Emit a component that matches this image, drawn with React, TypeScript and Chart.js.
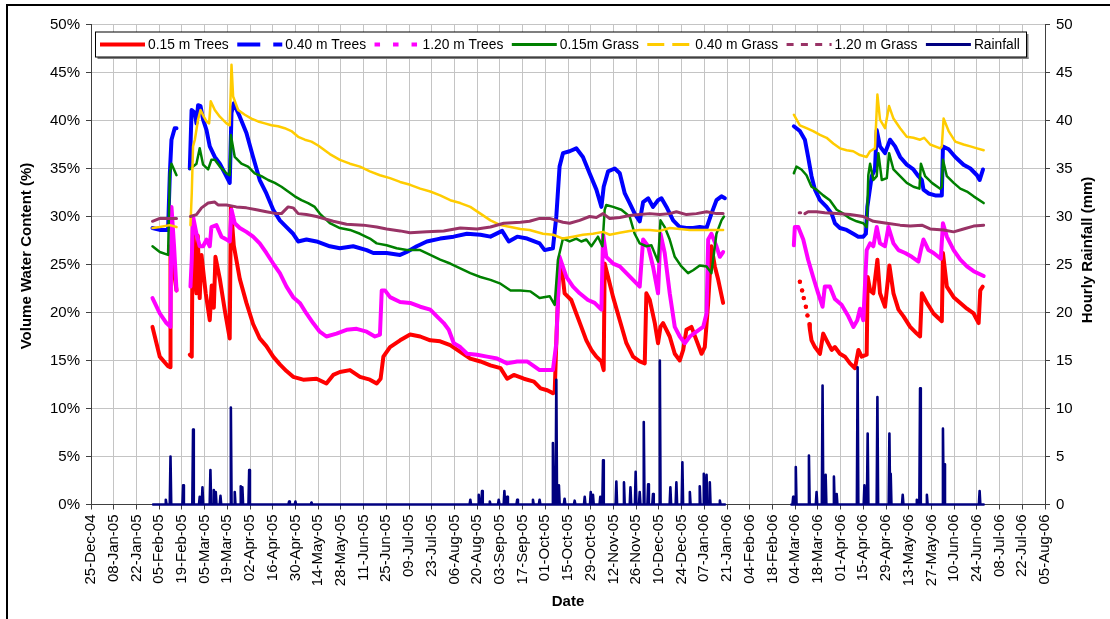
import React, { useEffect, useRef } from "react";
import { Chart, registerables } from "chart.js";

Chart.register(...registerables);

// ---------- axis definitions (days since 25-Dec-2004) ----------
const START_UTC = Date.UTC(2004, 11, 25);
const MONTHS = ["Jan", "Feb", "Mar", "Apr", "May", "Jun", "Jul", "Aug", "Sep", "Oct", "Nov", "Dec"];
const dayMin = 0;
const dayMax = 588;
const dayStep = 14;
const pctMin = 0;
const pctMax = 50;
const pctStep = 5;

const seriesLabels = [
  "0.15 m Trees",
  "0.40 m Trees",
  "1.20 m Trees",
  "0.15m Grass",
  "0.40 m Grass",
  "1.20 m Grass",
  "Rainfall",
];

type Pt = [number, number | null];

// ---------- series: [day, volume water content %] ----------
const trees015: Pt[] = [
  [37.9, 18.5], [42.4, 15.4], [47.5, 14.4], [48.8, 14.3], [49.0, 26.9], [50.6, 25.0], [52.7, 22.3], [56, null],
  [60.9, 15.6], [62.1, 15.4], [62.7, 29.5], [64.0, 24.0], [65.0, 22.0], [65.8, 28.0], [67.0, 21.5], [68.1, 26.0],
  [70.7, 22.0], [73.2, 19.2], [74.4, 22.8], [75.7, 20.5], [76.7, 25.8], [79.4, 23.5], [82.5, 20.2], [85.5, 17.3],
  [86.2, 31.0], [88.0, 27.0], [91.7, 23.5], [95.8, 21.0], [99.9, 18.8], [104.0, 17.3], [108.1, 16.5], [112.3, 15.4],
  [116.4, 14.6], [120.5, 13.9], [124.6, 13.3], [130.8, 13.0], [139.0, 13.1], [145.1, 12.6], [149.3, 13.5],
  [153.4, 13.8], [159.6, 14.0], [165.8, 13.3], [171.9, 13.0], [176.1, 12.6], [178.5, 13.1], [180.2, 15.4],
  [184.3, 16.4], [190.5, 17.1], [196.7, 17.7], [202.9, 17.5], [209.1, 17.1], [215.2, 17.0], [221.4, 16.6],
  [227.6, 15.9], [233.8, 15.2], [240.0, 14.9], [246.2, 14.5], [252.4, 14.2], [256.5, 13.1], [260.6, 13.5],
  [266.8, 13.1], [273.0, 12.8], [277.1, 12.1], [281.2, 11.9], [284.7, 11.6], [285.8, 11.7], [287.0, 18.0],
  [288.8, 25.5], [289.8, 25.1], [291.9, 22.0], [296.0, 21.3], [299.1, 19.9], [302.2, 18.5], [305.3, 17.1],
  [308.4, 16.1], [311.5, 15.4], [314.6, 14.9], [316.0, 14.0], [316.6, 25.1], [318.7, 23.7], [321.8, 21.6],
  [325.9, 19.2], [330.0, 16.8], [334.1, 15.4], [338.2, 14.9], [341.3, 14.7], [342.3, 22.0], [344.4, 21.3],
  [347.5, 18.9], [349.5, 16.8], [351.0, 18.5], [352.6, 18.9], [356.7, 17.5], [359.8, 15.7], [362.9, 15.0],
  [365.0, 16.1], [367.0, 18.2], [370.1, 18.5], [373.2, 17.1], [376.3, 15.7], [378.3, 16.4], [380.4, 21.0],
  [382.4, 26.9], [384.5, 24.8], [386.6, 23.4], [389.6, 21.0], [410, null],
  [436.9, 23.2], [437.6, null], [438.3, 22.3], [438.8, null], [439.3, 21.5], [440.0, null], [440.6, 20.6],
  [441.1, null], [441.6, 19.7], [442.1, null], [442.7, 18.8], [443.1, 18.2], [444.1, 17.1], [446.2, 16.4],
  [449.3, 15.7], [451.3, 17.8], [453.4, 17.1], [456.5, 16.1], [458.5, 16.4], [461.6, 15.7], [464.7, 15.4],
  [467.8, 14.7], [470.9, 14.2], [473.0, 16.1], [475.0, 15.4], [478.1, 15.6], [478.7, 23.7], [480.2, 22.3],
  [482.2, 22.0], [484.7, 25.5], [486.3, 22.0], [489.4, 20.6], [492.1, 24.9], [494.6, 22.0], [497.7, 20.3],
  [500.8, 19.6], [504.9, 18.5], [509.0, 17.8], [511.0, 17.5], [512.1, 22.0], [515.2, 21.0], [519.3, 19.9],
  [522.4, 19.4], [524.4, 19.1], [525.1, 26.2], [527.5, 22.7], [531.7, 21.6], [535.8, 21.0], [539.9, 20.4],
  [544.0, 19.9], [547.1, 18.9], [548.1, 22.3], [549.6, 22.7],
];

const trees040: Pt[] = [
  [37.9, 28.8], [42.4, 28.6], [47.5, 28.6], [48.6, 34.5], [49.6, 38.0], [51.6, 39.2], [52.7, 39.2], [56, null],
  [60.9, 35.0], [62.0, 41.1], [64.0, 40.8], [65.0, 39.7], [66.0, 41.6], [67.5, 41.5], [69.1, 40.1], [71.2, 39.0],
  [73.2, 37.3], [76.3, 36.2], [79.4, 35.5], [82.5, 34.5], [85.5, 33.5], [86.6, 40.8], [88.0, 41.8], [91.7, 40.4],
  [95.8, 38.7], [99.9, 36.2], [104.0, 33.8], [108.1, 32.4], [112.3, 30.7], [116.4, 29.6], [120.5, 28.9],
  [124.6, 28.2], [127.7, 27.4], [132.8, 27.6], [139.0, 27.4], [147.2, 26.9], [153.4, 26.7], [161.6, 26.9],
  [169.9, 26.5], [174.0, 26.2], [182.2, 26.2], [190.5, 26.0], [194.6, 26.3], [200.8, 26.9], [207.0, 27.4],
  [215.2, 27.7], [223.5, 27.9], [231.7, 28.2], [240.0, 28.1], [246.2, 27.9], [253.4, 28.5], [257.5, 27.4],
  [262.7, 27.9], [268.8, 27.7], [276.5, 27.2], [279.6, 26.5], [284.7, 26.7], [286.8, 30.0], [288.8, 35.2],
  [290.9, 36.6], [295.0, 36.8], [299.1, 37.1], [303.2, 36.2], [307.3, 34.5], [311.5, 32.8], [314.6, 31.0],
  [316.0, 33.1], [318.7, 34.7], [322.8, 35.0], [325.9, 34.5], [329.0, 32.4], [332.0, 31.4], [335.1, 30.3],
  [338.2, 29.5], [340.3, 31.5], [343.4, 31.9], [346.4, 31.0], [349.5, 31.7], [351.6, 31.9], [354.7, 31.0],
  [358.8, 29.6], [362.9, 28.9], [367.0, 28.8], [371.1, 28.8], [375.2, 28.9], [379.4, 28.8], [382.4, 30.3],
  [385.5, 31.7], [388.6, 32.1], [390.7, 31.9], [410, null],
  [433.2, 39.4], [436.9, 38.9], [440.0, 38.0], [442.0, 36.2], [444.1, 34.2], [446.2, 32.8], [449.3, 31.7],
  [453.4, 31.0], [456.5, 30.3], [458.5, 29.3], [461.6, 28.8], [465.7, 28.6], [469.8, 28.2], [472.9, 27.9],
  [476.0, 27.9], [477.6, 28.2], [478.5, 31.0], [481.2, 34.2], [483.2, 34.9], [484.3, 39.0], [486.3, 37.3],
  [489.4, 36.6], [492.5, 38.0], [495.6, 37.3], [498.7, 36.2], [502.8, 35.4], [506.9, 34.9], [510.0, 34.2],
  [512.1, 33.8], [513.1, 32.8], [516.2, 32.4], [520.3, 32.2], [524.4, 32.2], [525.1, 37.3], [528.6, 37.0],
  [532.7, 36.2], [537.8, 35.4], [542.0, 35.0], [546.1, 34.3], [547.7, 33.8], [549.8, 34.9],
];

const trees120: Pt[] = [
  [37.9, 21.5], [42.4, 19.9], [46.5, 18.9], [49.0, 18.5], [49.6, 31.0], [51.2, 26.9], [52.7, 22.3], [56, null],
  [61.3, 22.7], [62.1, 25.5], [62.9, 30.0], [65.0, 28.2], [67.0, 26.9], [69.1, 26.9], [71.2, 27.6], [73.2, 26.9],
  [74.2, 28.9], [77.3, 29.1], [80.4, 27.9], [83.5, 27.6], [85.5, 27.4], [86.6, 30.7], [88.6, 29.3], [91.7, 28.8],
  [95.8, 28.4], [99.9, 27.9], [104.0, 27.2], [108.1, 26.2], [112.3, 25.1], [116.4, 24.1], [120.5, 22.7],
  [124.6, 21.6], [128.7, 21.0], [132.8, 19.9], [136.9, 18.9], [141.0, 18.0], [145.1, 17.5], [151.3, 17.8],
  [157.5, 18.2], [163.7, 18.3], [169.9, 18.0], [175.0, 17.5], [178.1, 17.7], [179.2, 22.3], [181.2, 22.3],
  [184.3, 21.6], [190.5, 21.1], [196.7, 21.0], [202.9, 20.6], [209.1, 20.3], [213.2, 19.6], [217.4, 18.9],
  [220.5, 18.2], [223.6, 16.8], [227.6, 16.4], [231.8, 15.7], [237.9, 15.6], [244.1, 15.4], [250.3, 15.2],
  [256.5, 14.7], [262.7, 14.9], [268.8, 14.9], [276.5, 14.0], [284.7, 14.0], [286.8, 16.8], [288.8, 25.8],
  [293.0, 23.7], [297.1, 22.7], [301.2, 22.0], [306.3, 21.3], [310.4, 21.0], [314.6, 20.3], [315.6, 28.2],
  [317.6, 25.8], [321.8, 25.1], [325.9, 24.8], [330.0, 24.1], [334.1, 23.4], [338.2, 22.7], [340.3, 27.6],
  [343.4, 26.9], [346.4, 24.8], [349.5, 22.0], [351.0, 28.2], [353.6, 26.2], [356.7, 22.0], [359.8, 18.5],
  [362.9, 17.5], [366.0, 16.8], [369.1, 17.5], [373.2, 18.0], [377.3, 18.5], [379.4, 19.9], [380.4, 27.6],
  [382.4, 28.2], [385.5, 26.9], [387.6, 25.8], [389.6, 26.3], [410, null],
  [433.2, 27.0], [433.8, 28.9], [435.9, 28.9], [439.0, 27.6], [442.0, 25.5], [445.1, 23.7], [448.2, 22.0],
  [450.9, 20.6], [452.3, 22.7], [455.4, 22.7], [458.5, 21.4], [462.6, 20.8], [466.8, 19.6], [469.9, 18.5],
  [472.3, 19.2], [474.0, 20.4], [476.0, 19.2], [478.1, 26.5], [480.2, 27.2], [482.2, 26.9], [484.3, 28.9],
  [486.3, 27.2], [489.4, 26.9], [491.5, 28.9], [494.6, 27.2], [497.7, 26.5], [501.8, 26.2], [505.9, 25.8],
  [510.0, 25.3], [511.5, 26.5], [513.1, 27.6], [516.2, 26.5], [519.3, 26.2], [523.8, 25.6], [525.1, 29.3],
  [527.5, 27.9], [531.7, 26.5], [535.8, 25.5], [539.9, 24.8], [544.0, 24.3], [550.2, 23.8],
];

const grass015: Pt[] = [
  [37.9, 26.9], [42.4, 26.3], [47.5, 26.0], [48.6, 34.5], [49.6, 35.5], [52.7, 34.3], [56, null],
  [61.3, 35.0], [62.9, 35.2], [65.0, 35.5], [67.0, 37.1], [69.1, 35.4], [72.2, 34.9], [74.2, 35.9], [76.3, 35.9],
  [79.4, 35.2], [83.5, 34.5], [85.5, 34.3], [86.2, 38.5], [88.6, 36.2], [92.7, 35.5], [96.8, 35.2], [100.9, 34.5],
  [105.0, 34.2], [109.2, 33.8], [113.3, 33.5], [117.4, 33.1], [121.5, 32.6], [125.6, 32.1], [129.7, 31.7],
  [133.8, 31.4], [137.9, 31.0], [141.0, 30.3], [147.2, 29.3], [153.4, 28.8], [159.6, 28.6], [165.8, 28.2],
  [171.9, 27.7], [176.1, 27.2], [182.2, 27.0], [188.4, 26.7], [194.6, 26.5], [202.9, 26.5], [209.1, 26.0],
  [215.2, 25.5], [221.4, 25.1], [227.6, 24.6], [233.8, 24.1], [240.0, 23.7], [246.2, 23.4], [252.4, 23.0],
  [258.6, 22.3], [264.7, 22.3], [270.9, 22.2], [276.5, 21.5], [282.7, 21.7], [285.8, 20.8], [287.8, 25.5],
  [290.9, 27.7], [295.0, 27.4], [299.1, 27.7], [302.2, 27.4], [305.3, 27.6], [308.4, 26.9], [312.5, 27.9],
  [315.2, 26.9], [316.6, 30.7], [317.6, 31.2], [321.8, 31.0], [326.9, 30.7], [332.0, 30.0], [335.1, 28.2],
  [338.2, 27.2], [342.3, 26.9], [345.4, 27.0], [349.5, 25.3], [351.0, 29.6], [353.6, 28.9], [356.7, 27.6],
  [359.8, 25.8], [363.9, 24.8], [368.0, 24.1], [371.1, 24.4], [375.2, 24.9], [379.4, 24.8], [382.4, 24.1],
  [385.5, 28.2], [388.6, 29.6], [390.1, 30.0], [410, null],
  [433.2, 34.5], [434.8, 35.2], [437.9, 34.9], [441.0, 34.3], [444.1, 33.1], [447.2, 32.8], [451.3, 32.2],
  [455.4, 31.7], [459.6, 30.7], [463.7, 30.3], [467.8, 29.8], [471.9, 29.5], [476.0, 29.3], [478.1, 28.9],
  [479.1, 34.3], [480.2, 35.5], [482.2, 33.8], [484.3, 34.2], [485.3, 36.6], [487.4, 33.8], [490.5, 34.0],
  [491.9, 36.6], [494.6, 34.9], [498.7, 34.2], [502.8, 33.5], [506.9, 33.1], [510.6, 32.9], [511.5, 35.5],
  [514.1, 34.2], [518.3, 33.5], [523.4, 32.9], [524.4, 33.1], [525.1, 35.9], [527.5, 34.2], [531.7, 33.5],
  [535.8, 32.9], [539.9, 32.6], [544.0, 32.1], [550.2, 31.4],
];

const grass040: Pt[] = [
  [37.9, 28.8], [42.4, 28.9], [48.6, 29.1], [52.7, 28.9], [56, null],
  [61.3, 29.1], [62.1, 32.4], [62.9, 37.3], [64.0, 38.0], [66.0, 40.1], [67.5, 41.1], [69.5, 40.4], [71.2, 39.9],
  [72.8, 39.7], [73.8, 42.0], [76.3, 41.1], [79.4, 40.4], [83.5, 39.7], [85.5, 39.5], [86.6, 45.8], [87.6, 42.5],
  [90.7, 41.1], [94.8, 40.6], [98.9, 40.2], [103.0, 39.9], [107.1, 39.7], [111.2, 39.5], [115.3, 39.4],
  [119.4, 39.2], [123.5, 38.9], [127.7, 38.3], [131.8, 38.0], [135.9, 37.8], [140.0, 37.4], [147.2, 36.5],
  [153.4, 35.9], [159.6, 35.5], [165.8, 35.2], [171.9, 34.7], [178.1, 34.3], [184.3, 34.0], [190.5, 33.6],
  [196.7, 33.3], [202.9, 32.9], [209.1, 32.6], [215.2, 32.2], [221.4, 31.7], [227.6, 31.4], [233.8, 31.0],
  [240.0, 30.3], [246.2, 29.6], [252.4, 29.1], [258.6, 28.9], [264.7, 28.7], [270.3, 28.6], [278.6, 28.2],
  [284.7, 28.1], [290.9, 27.7], [297.1, 27.9], [303.2, 28.1], [309.4, 28.2], [315.6, 28.4], [319.7, 28.1],
  [325.9, 28.3], [332.0, 28.5], [338.2, 28.6], [344.4, 28.6], [350.6, 28.5], [356.7, 28.8], [362.9, 28.7],
  [369.1, 28.6], [375.2, 28.6], [381.4, 28.6], [389.6, 28.6], [410, null],
  [433.2, 40.6], [436.9, 39.5], [441.0, 39.2], [445.1, 38.9], [449.3, 38.5], [453.4, 38.2], [457.5, 37.6],
  [461.6, 37.1], [465.7, 36.9], [469.8, 36.8], [473.9, 36.4], [478.1, 36.2], [480.2, 36.8], [483.2, 37.1],
  [484.7, 42.7], [486.3, 40.1], [489.4, 39.2], [491.9, 41.5], [494.6, 40.2], [498.7, 39.2], [502.8, 38.3],
  [506.9, 38.2], [511.0, 38.0], [513.5, 38.2], [517.2, 37.5], [523.4, 37.1], [524.4, 37.3], [525.5, 40.2],
  [528.6, 38.9], [532.7, 37.8], [537.8, 37.5], [542.0, 37.3], [546.1, 37.1], [550.2, 36.9],
];

const grass120: Pt[] = [
  [37.9, 29.5], [42.4, 29.8], [52.7, 29.8], [56, null],
  [61.3, 30.0], [65.0, 30.2], [68.1, 30.9], [72.2, 31.4], [76.3, 31.5], [78.3, 31.2], [83.5, 31.2], [89.6, 31.0],
  [95.8, 30.9], [102.0, 30.7], [108.1, 30.5], [114.3, 30.3], [117.4, 30.3], [121.5, 31.0], [124.6, 30.9],
  [127.7, 30.3], [132.8, 30.2], [139.0, 30.0], [149.3, 29.5], [157.5, 29.2], [167.8, 29.1], [176.1, 28.9],
  [182.2, 28.7], [190.5, 28.5], [196.7, 28.3], [207.0, 28.4], [217.4, 28.5], [227.6, 28.8], [237.9, 28.7],
  [246.2, 28.9], [254.4, 29.3], [264.7, 29.4], [270.3, 29.5], [276.5, 29.8], [282.7, 29.8], [286.8, 29.6],
  [290.9, 29.4], [295.0, 29.3], [301.2, 29.6], [307.3, 30.0], [311.5, 29.9], [315.6, 30.3], [319.7, 29.8],
  [325.9, 29.9], [332.0, 30.1], [338.2, 30.2], [344.4, 30.3], [350.6, 30.2], [356.7, 30.3], [360.8, 30.5],
  [367.0, 30.2], [373.2, 30.3], [379.4, 30.5], [385.5, 30.3], [389.6, 30.3], [410, null],
  [436.5, 30.4], [437.4, 30.4], [438.6, null], [440.0, 30.3], [442.0, 30.5], [447.2, 30.5], [452.3, 30.4],
  [459.6, 30.3], [467.8, 30.2], [476.0, 30.0], [482.2, 29.5], [490.5, 29.3], [498.7, 29.1], [504.9, 29.0],
  [512.1, 29.1], [517.2, 28.7], [525.5, 28.6], [531.7, 28.4], [537.8, 28.7], [544.0, 29.0], [550.2, 29.1],
];

// ---------- hourly rainfall (mm): logging periods and events ----------
const rainPeriodStart = [38.3, 431.7];
const rainPeriodEnd = [390.7, 550.2];
const rainEventDay = [
  46.1, 49.0, 56.8, 62.9, 67.0, 68.7, 73.6, 75.7, 76.9, 79.8, 86.2, 88.6, 92.3, 93.3, 97.5, 122.1, 126.0, 135.9,
  233.8, 239.0, 241.0, 245.8, 251.3, 254.8, 256.5, 262.7, 272.4, 276.5, 284.7, 286.8, 288.4, 291.9, 298.1,
  304.3, 308.0, 309.4, 313.9, 315.6, 323.8, 328.5, 332.5, 335.7, 338.2, 340.7, 343.4, 346.4, 350.6, 357.1,
  360.8, 364.5, 369.1, 375.2, 377.7, 379.4, 381.4, 387.6,
  432.8, 434.4, 442.5, 447.2, 450.9, 452.8, 457.9, 459.6, 472.5, 476.7, 478.7, 484.7, 492.1, 492.9, 500.3,
  509.0, 511.0, 515.2, 525.1, 525.9, 547.7,
];
const rainEventMm = [
  0.5, 5.0, 2.0, 7.8, 0.8, 1.8, 3.6, 1.5, 1.3, 0.9, 10.1, 1.3, 1.9, 1.8, 3.6, 0.3, 0.3, 0.2,
  0.5, 1.0, 1.4, 0.3, 0.5, 1.4, 0.8, 0.5, 0.5, 0.5, 6.4, 13.0, 2.0, 0.6, 0.4,
  0.8, 1.3, 1.0, 0.8, 4.6, 2.4, 2.3, 1.8, 3.4, 1.3, 8.6, 2.1, 1.1, 15.0, 1.8,
  2.3, 4.4, 1.3, 1.9, 3.2, 3.1, 2.3, 0.4,
  0.8, 3.9, 5.1, 1.3, 12.4, 3.1, 2.9, 1.1, 14.3, 2.0, 7.4, 11.2, 7.4, 3.2, 1.0,
  0.5, 12.1, 1.0, 7.9, 4.2, 1.4,
];

// ---------- styles ----------
const FONT = '"Liberation Sans", Arial, Helvetica, sans-serif';
const styles = [
  { color: "#FF0000", width: 4, legendDash: [] as number[] },
  { color: "#0000FF", width: 4, legendDash: [23, 13] },
  { color: "#FF00FF", width: 4, legendDash: [5.5, 13] },
  { color: "#008000", width: 2.5, legendDash: [] as number[] },
  { color: "#FFCC00", width: 2.5, legendDash: [17, 8] },
  { color: "#993366", width: 3, legendDash: [7, 7.3] },
  { color: "#000080", width: 2.6, legendDash: [] as number[] },
];

function dayLabel(v: number): string {
  const d = new Date(START_UTC + Math.round(v) * 86400000);
  const dd = String(d.getUTCDate()).padStart(2, "0");
  const yy = String(d.getUTCFullYear() % 100).padStart(2, "0");
  return `${dd}-${MONTHS[d.getUTCMonth()]}-${yy}`;
}

function toPoints(s: Pt[]) {
  return s.map(([x, y]) => ({ x, y }));
}

function buildRain() {
  const pts: { x: number; y: number | null }[] = [];
  for (let p = 0; p < rainPeriodStart.length; p++) {
    const a = rainPeriodStart[p];
    const b = rainPeriodEnd[p];
    if (p > 0) pts.push({ x: (rainPeriodEnd[p - 1] + a) / 2, y: null });
    pts.push({ x: a, y: 0 });
    rainEventDay.forEach((d, i) => {
      if (d > a && d < b) {
        pts.push({ x: d - 0.45, y: 0 }, { x: d, y: rainEventMm[i] }, { x: d + 0.45, y: 0 });
      }
    });
    pts.push({ x: b, y: 0 });
  }
  return pts;
}

const isolatedRadius = (ctx: any) => {
  const data = ctx.dataset.data;
  const i = ctx.dataIndex;
  const empty = (p: any) => !p || p.y === null;
  if (empty(data[i])) return 0;
  return empty(data[i - 1]) && empty(data[i + 1]) ? 2.2 : 0;
};

const decorPlugin = {
  id: "decor",
  beforeDraw(chart: any) {
    const ctx = chart.ctx;
    ctx.save();
    ctx.fillStyle = "#ffffff";
    ctx.fillRect(0, 0, chart.width, chart.height);
    ctx.fillStyle = "#000000";
    ctx.fillRect(6, 4, 2, chart.height);
    ctx.fillRect(6, 4, chart.width, 2);
    ctx.restore();
  },
  afterDraw(chart: any) {
    const ctx = chart.ctx;
    ctx.save();
    // axis titles
    ctx.fillStyle = "#000";
    ctx.font = `bold 15px ${FONT}`;
    ctx.textAlign = "center";
    ctx.textBaseline = "middle";
    ctx.save();
    ctx.translate(27, 256);
    ctx.rotate(-Math.PI / 2);
    ctx.fillText("Volume Water Content (%)", 0, 0);
    ctx.restore();
    ctx.save();
    ctx.translate(1088, 250);
    ctx.rotate(-Math.PI / 2);
    ctx.fillText("Hourly Rainfall (mm)", 0, 0);
    ctx.restore();
    ctx.fillText("Date", 568, 602);

    // legend
    const bx = 95.5, by = 32, bw = 931, bh = 25;
    ctx.fillStyle = "#808080";
    ctx.fillRect(bx + 2, by + bh, bw, 2);
    ctx.fillRect(bx + bw, by + 2, 2, bh);
    ctx.fillStyle = "#ffffff";
    ctx.fillRect(bx, by, bw, bh);
    ctx.strokeStyle = "#000";
    ctx.lineWidth = 1;
    ctx.strokeRect(bx, by, bw, bh);
    ctx.font = `13.8px ${FONT}`;
    ctx.textAlign = "left";
    ctx.textBaseline = "middle";
    const cy = by + bh / 2;
    let x = 100;
    chart.data.datasets.forEach((ds: any, i: number) => {
      const st = styles[i];
      ctx.save();
      ctx.strokeStyle = st.color;
      ctx.lineWidth = Math.max(st.width, 3);
      ctx.setLineDash(st.legendDash);
      ctx.lineCap = "butt";
      ctx.beginPath();
      ctx.moveTo(x, cy);
      ctx.lineTo(x + 45, cy);
      ctx.stroke();
      ctx.restore();
      ctx.fillStyle = "#000";
      ctx.fillText(ds.label, x + 48, cy + 0.5);
      x = x + 48 + ctx.measureText(ds.label).width + 8.5;
    });
    ctx.restore();
  },
};

export default function App() {
  const canvasRef = useRef<HTMLCanvasElement>(null);

  useEffect(() => {
    document.body.style.margin = "0";
    const canvas = canvasRef.current;
    if (!canvas) return;
    const waterSeries = [trees015, trees040, trees120, grass015, grass040, grass120];
    const datasets: any[] = waterSeries.map((s, i) => ({
      label: seriesLabels[i],
      data: toPoints(s),
      borderColor: styles[i].color,
      backgroundColor: styles[i].color,
      borderWidth: styles[i].width,
      pointRadius: i === 0 ? isolatedRadius : 0,
      pointBorderWidth: 0,
      pointHoverRadius: 0,
      borderJoinStyle: "round",
      borderCapStyle: "round",
      spanGaps: false,
      tension: 0,
      yAxisID: "y",
      order: 6 - i,
    }));
    datasets.push({
      label: seriesLabels[6],
      data: buildRain(),
      borderColor: styles[6].color,
      backgroundColor: styles[6].color,
      borderWidth: styles[6].width,
      pointRadius: 0,
      pointHoverRadius: 0,
      borderJoinStyle: "round",
      borderCapStyle: "round",
      spanGaps: false,
      tension: 0,
      yAxisID: "y1",
      order: 0,
      clip: 3,
    });

    const chart = new Chart(canvas, {
      type: "line",
      data: { datasets },
      options: {
        animation: false,
        responsive: false,
        events: [],
        layout: { padding: { top: 24.5, left: 0, right: 0, bottom: 0 } },
        plugins: { legend: { display: false }, tooltip: { enabled: false }, title: { display: false } },
        scales: {
          x: {
            type: "linear",
            min: dayMin,
            max: dayMax,
            afterFit: (s: any) => {
              s.height = 114.5;
            },
            ticks: {
              stepSize: dayStep,
              maxTicksLimit: 100,
              autoSkip: false,
              minRotation: 90,
              maxRotation: 90,
              padding: 5,
              color: "#000",
              font: { family: FONT, size: 15 },
              callback: (v: any) => dayLabel(Number(v)),
            },
            grid: { color: "#c4c4c4", lineWidth: 1, tickLength: 5, tickColor: "#404040" },
            border: { color: "#404040", width: 1 },
          },
          y: {
            type: "linear",
            position: "left",
            min: pctMin,
            max: pctMax,
            afterFit: (s: any) => {
              s.width = 91;
            },
            ticks: {
              stepSize: pctStep,
              padding: 6,
              color: "#000",
              font: { family: FONT, size: 15 },
              callback: (v: any) => `${v}%`,
            },
            grid: { color: "#c4c4c4", lineWidth: 1, tickLength: 5, tickColor: "#404040" },
            border: { color: "#404040", width: 1 },
          },
          y1: {
            type: "linear",
            position: "right",
            min: pctMin,
            max: pctMax,
            afterFit: (s: any) => {
              s.width = 65;
            },
            ticks: {
              stepSize: pctStep,
              padding: 6,
              color: "#000",
              font: { family: FONT, size: 15 },
              callback: (v: any) => `${v}`,
            },
            grid: { drawOnChartArea: false, tickLength: 5, tickColor: "#404040" },
            border: { color: "#404040", width: 1 },
          },
        },
      },
      plugins: [decorPlugin],
    });
    return () => chart.destroy();
  }, []);

  return (
    <div style={{ position: "fixed", left: 0, top: 0, width: 1110, height: 619, background: "#fff" }}>
      <canvas ref={canvasRef} width={1110} height={619} style={{ display: "block", width: 1110, height: 619 }} />
    </div>
  );
}
